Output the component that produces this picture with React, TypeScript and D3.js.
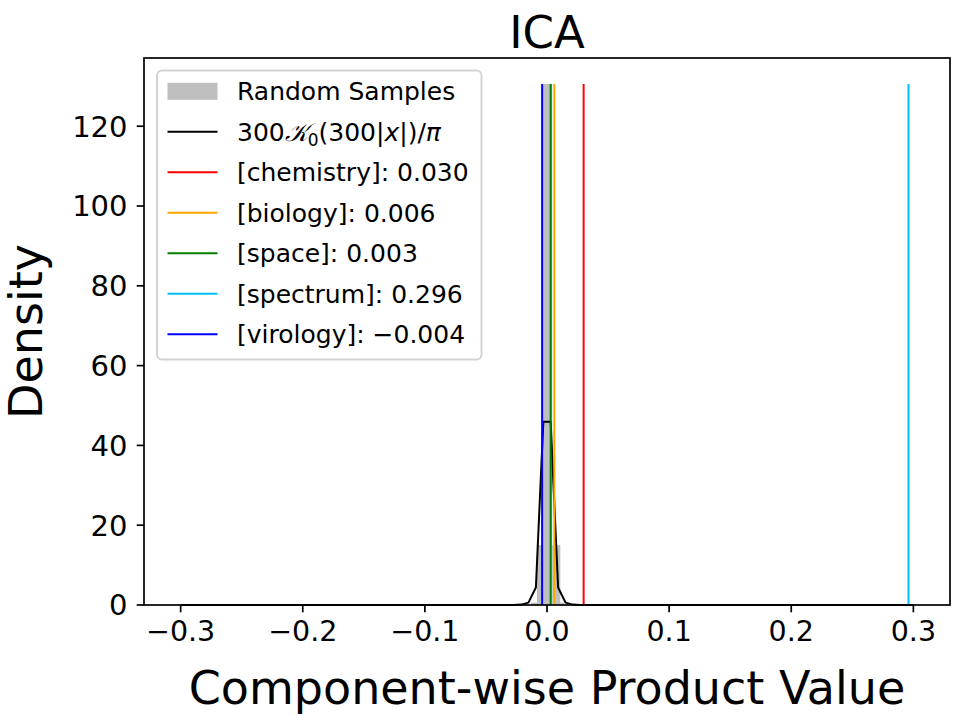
import { useEffect, useRef } from "react";
import * as d3 from "d3";

// values
const xTicks = [-0.3, -0.2, -0.1, 0.0, 0.1, 0.2, 0.3];
const yTicks = [0, 20, 40, 60, 80, 100, 120];

const binEdges = [-0.0131, -0.0082, -0.0038, 0.0043, 0.0109, 0.0142];
const binHeights = [0.6, 15, 130.6, 15, 0.6];

const curveX = [-0.3, -0.0273, -0.0212, -0.0152, -0.0091, -0.003, 0.003, 0.0091, 0.0152, 0.0212, 0.0273, 0.3];
const curveY = [0, 0, 0.1, 0.6, 4.4, 45.9, 45.9, 4.4, 0.6, 0.1, 0, 0];

const wordNames = ["chemistry", "biology", "space", "spectrum", "virology"];
const wordValues = [0.03, 0.006, 0.003, 0.296, -0.004];
const wordColors = ["#ff0000", "#ffa500", "#008000", "#00bfff", "#0000ff"];
const lineTop = 130.6;

const W = 960;
const H = 720;
const FONT = "DejaVu Sans, sans-serif";

function App() {
  const svgRef = useRef<SVGSVGElement | null>(null);

  useEffect(() => {
    const margin = { top: 58, right: 10, bottom: 115, left: 144 };
    const svg = d3.select(svgRef.current);
    svg.selectAll("*").remove();

    const x = d3.scaleLinear().domain([-0.33, 0.33]).range([margin.left, W - margin.right]);
    const y = d3.scaleLinear().domain([0, 137.1]).range([H - margin.bottom, margin.top]);

    const fmt = (v: number, d: number) => v.toFixed(d).replace("-", "\u2212");

    // histogram
    svg.append("g")
      .selectAll("rect")
      .data(binHeights)
      .enter()
      .append("rect")
      .attr("x", (_, i) => x(binEdges[i]))
      .attr("width", (_, i) => x(binEdges[i + 1]) - x(binEdges[i]))
      .attr("y", (d) => y(d))
      .attr("height", (d) => y(0) - y(d))
      .attr("fill", "#bfbfbf");

    // bessel curve
    const line = d3.line<number>()
      .x((_, i) => x(curveX[i]))
      .y((d) => y(d));
    svg.append("path")
      .attr("d", line(curveY))
      .attr("fill", "none")
      .attr("stroke", "#000")
      .attr("stroke-width", 2)
      .attr("stroke-linejoin", "round");

    // word lines
    svg.append("g")
      .selectAll("line")
      .data(wordValues)
      .enter()
      .append("line")
      .attr("x1", (d) => x(d))
      .attr("x2", (d) => x(d))
      .attr("y1", y(0))
      .attr("y2", y(lineTop))
      .attr("stroke", (_, i) => wordColors[i])
      .attr("stroke-width", 2);

    // frame
    svg.append("rect")
      .attr("x", margin.left)
      .attr("y", margin.top)
      .attr("width", W - margin.right - margin.left)
      .attr("height", H - margin.bottom - margin.top)
      .attr("fill", "none")
      .attr("stroke", "#000")
      .attr("stroke-width", 1.7);

    // x axis ticks
    const xt = svg.append("g");
    xTicks.forEach((t) => {
      xt.append("line")
        .attr("x1", x(t)).attr("x2", x(t))
        .attr("y1", y(0)).attr("y2", y(0) + 7.3)
        .attr("stroke", "#000").attr("stroke-width", 1.7);
      xt.append("text")
        .attr("x", x(t))
        .attr("y", 641)
        .attr("text-anchor", "middle")
        .attr("font-family", FONT)
        .attr("font-size", 28.5)
        .text(fmt(t, 1));
    });

    // y axis ticks
    const yt = svg.append("g");
    yTicks.forEach((t) => {
      yt.append("line")
        .attr("x1", margin.left - 7.3).attr("x2", margin.left)
        .attr("y1", y(t)).attr("y2", y(t))
        .attr("stroke", "#000").attr("stroke-width", 1.7);
      yt.append("text")
        .attr("x", margin.left - 16.5)
        .attr("y", y(t))
        .attr("dy", "0.36em")
        .attr("text-anchor", "end")
        .attr("font-family", FONT)
        .attr("font-size", 29)
        .text(String(t));
    });

    // title and labels
    svg.append("text")
      .attr("x", (margin.left + W - margin.right) / 2)
      .attr("y", 48)
      .attr("text-anchor", "middle")
      .attr("font-family", FONT)
      .attr("font-size", 45)
      .text("ICA");

    svg.append("text")
      .attr("x", (margin.left + W - margin.right) / 2)
      .attr("y", 704)
      .attr("text-anchor", "middle")
      .attr("font-family", FONT)
      .attr("font-size", 46)
      .text("Component-wise Product Value");

    svg.append("text")
      .attr("transform", `translate(42,${(margin.top + H - margin.bottom) / 2}) rotate(-90)`)
      .attr("text-anchor", "middle")
      .attr("font-family", FONT)
      .attr("font-size", 46)
      .text("Density");

    // legend
    const lg = svg.append("g");
    lg.append("rect")
      .attr("x", 157)
      .attr("y", 70.5)
      .attr("width", 324.5)
      .attr("height", 289)
      .attr("rx", 5)
      .attr("fill", "#fff")
      .attr("fill-opacity", 0.8)
      .attr("stroke", "#d4d4d4")
      .attr("stroke-width", 2);

    const rowY = (i: number) => 91.3 + i * 40.5;
    const hx0 = 167.5;
    const hx1 = 217.5;
    const tx = 237;

    lg.append("rect")
      .attr("x", hx0).attr("y", rowY(0) - 8.5)
      .attr("width", hx1 - hx0).attr("height", 17)
      .attr("fill", "#bfbfbf");
    lg.append("text")
      .attr("x", tx).attr("y", rowY(0)).attr("dy", "0.36em")
      .attr("font-family", FONT).attr("font-size", 25)
      .text("Random Samples");

    lg.append("line")
      .attr("x1", hx0).attr("x2", hx1)
      .attr("y1", rowY(1)).attr("y2", rowY(1))
      .attr("stroke", "#000").attr("stroke-width", 2);
    const mt = lg.append("text")
      .attr("x", tx).attr("y", rowY(1)).attr("dy", "0.36em")
      .attr("font-family", FONT).attr("font-size", 25);
    mt.append("tspan").text("300");
    mt.append("tspan").attr("font-family", "DejaVu Serif").attr("font-style", "italic").text("\u{1D4A6}");
    mt.append("tspan").attr("font-size", 17).attr("dy", 5).text("0");
    mt.append("tspan").attr("dy", -5).text("(300|");
    mt.append("tspan").attr("font-style", "italic").text("x");
    mt.append("tspan").text("|)/");
    mt.append("tspan").attr("font-style", "italic").text("\u03C0");

    wordNames.forEach((name, i) => {
      const ry = rowY(i + 2);
      lg.append("line")
        .attr("x1", hx0).attr("x2", hx1)
        .attr("y1", ry).attr("y2", ry)
        .attr("stroke", wordColors[i]).attr("stroke-width", 2);
      lg.append("text")
        .attr("x", tx).attr("y", ry).attr("dy", "0.36em")
        .attr("font-family", FONT).attr("font-size", 25)
        .text(`[${name}]: ${fmt(wordValues[i], 3)}`);
    });
  }, []);

  return (
    <svg
      ref={svgRef}
      width={W}
      height={H}
      style={{ position: "absolute", left: 0, top: 0, background: "#fff" }}
    ></svg>
  );
}

export default App;
